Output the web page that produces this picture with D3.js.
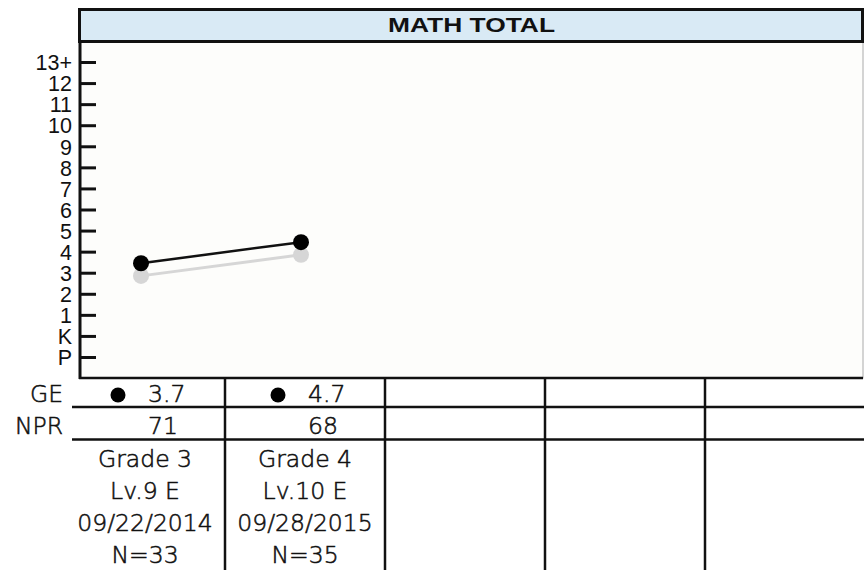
<!DOCTYPE html>
<html>
<head>
<meta charset="utf-8">
<script src="https://cdn.jsdelivr.net/npm/d3@7"></script>
<style>
  body { margin: 0; background: #fff; }
  svg text { font-family: "Liberation Sans", Arial, sans-serif; fill: #111; }
  .title { font-weight: bold; font-size: 20px; }
  .tick text { font-size: 21.5px; }
  .cell-text { font-family: "DejaVu Sans", sans-serif; font-weight: 200; font-size: 23.5px;
               stroke: #111; stroke-width: 0.55px; }
</style>
</head>
<body>
<div class="chart"></div>
<script>
// test slots (5 columns, only two filled)
const slots = ["t1", "t2", "t3", "t4", "t5"];
const gradeLabels = ["Grade 3", "Grade 4"];
const levelLabels = ["Lv.9 E", "Lv.10 E"];
const testDates = ["09/22/2014", "09/28/2015"];
const nLabels = ["N=33", "N=35"];
const geValues = [3.7, 4.7];
const nprValues = [71, 68];
const expectedGE = [3.1, 4.1];
const tickLabels = ["P", "K", "1", "2", "3", "4", "5", "6", "7", "8", "9", "10", "11", "12", "13+"];
const tickLevels = [-1, 0, 1, 2, 3, 4, 5, 6, 7, 8, 9, 10, 11, 12, 13];

const width = 864;
const height = 570;
const plotLeft = 80;
const plotRight = 863;
const plotTop = 42;
const plotBottom = 378;
const tickOffset = 0.25;

const svg = d3.select(".chart")
  .append("svg")
    .attr("width", width)
    .attr("height", height);

svg.append("rect")
  .attr("width", width).attr("height", height)
  .attr("fill", "#fff");

//plot background
svg.append("rect")
  .attr("x", plotLeft).attr("y", plotTop)
  .attr("width", plotRight - plotLeft).attr("height", plotBottom - plotTop)
  .attr("fill", "#fdfdfb")
  .attr("stroke", "#aaa")
  .attr("stroke-width", 1);

//title box
svg.append("rect")
  .attr("x", 79.5).attr("y", 9.5)
  .attr("width", 783).attr("height", 32)
  .attr("fill", "#d9eaf5")
  .attr("stroke", "#111")
  .attr("stroke-width", 3);
svg.append("text")
  .attr("class", "title")
  .attr("x", 471.5).attr("y", 31.5)
  .attr("text-anchor", "middle")
  .attr("textLength", 167)
  .attr("lengthAdjust", "spacingAndGlyphs")
  .text("MATH TOTAL");

//SCALES
const x = d3.scaleBand()
  .domain(slots)
  .range([65, 865]);

const y = d3.scaleLinear()
  .domain([-1 + tickOffset, 13 + tickOffset])
  .range([357, 62]);

const cx = i => x(slots[i]) + x.bandwidth() / 2;

//y axis
const yAxis = svg.append("g")
  .attr("transform", `translate(${plotLeft},0)`)
  .call(d3.axisLeft(y)
    .tickValues(tickLevels.map(d => d + tickOffset))
    .tickFormat((d, i) => tickLabels[i])
    .tickSize(-16)
    .tickPadding(8));
yAxis.select(".domain").remove();
yAxis.selectAll(".tick line")
  .attr("stroke", "#111")
  .attr("stroke-width", 3);
yAxis.selectAll(".tick text")
  .attr("dy", "0.36em")
  .attr("fill", "#222");

//axis lines
svg.append("line")
  .attr("x1", plotLeft).attr("x2", plotLeft)
  .attr("y1", plotTop).attr("y2", plotBottom + 1)
  .attr("stroke", "#111").attr("stroke-width", 3);
svg.append("line")
  .attr("x1", plotLeft - 1).attr("x2", plotRight)
  .attr("y1", plotBottom).attr("y2", plotBottom)
  .attr("stroke", "#111").attr("stroke-width", 2.5);

//expected (gray) series
const line = d3.line()
  .x((d, i) => cx(i) - 4)
  .y(d => y(d));

svg.append("path")
  .datum(expectedGE)
  .attr("d", line)
  .attr("fill", "none")
  .attr("stroke", "#d6d6d6")
  .attr("stroke-width", 3);
svg.selectAll(".exp-dot")
  .data(expectedGE)
  .enter().append("circle")
    .attr("class", "exp-dot")
    .attr("cx", (d, i) => cx(i) - 4)
    .attr("cy", d => y(d))
    .attr("r", 8)
    .attr("fill", "#d6d6d6");

//student GE series
svg.append("path")
  .datum(geValues)
  .attr("d", line)
  .attr("fill", "none")
  .attr("stroke", "#111")
  .attr("stroke-width", 2.5);
svg.selectAll(".ge-dot")
  .data(geValues)
  .enter().append("circle")
    .attr("class", "ge-dot")
    .attr("cx", (d, i) => cx(i) - 4)
    .attr("cy", d => y(d))
    .attr("r", 8)
    .attr("fill", "#000");

//TABLE
//row lines
[407, 439.5].forEach(yy => {
  svg.append("line")
    .attr("x1", 72).attr("x2", width)
    .attr("y1", yy).attr("y2", yy)
    .attr("stroke", "#111").attr("stroke-width", 2.5);
});
//column dividers
svg.selectAll(".col-line")
  .data(slots.slice(1))
  .enter().append("line")
    .attr("class", "col-line")
    .attr("x1", d => x(d)).attr("x2", d => x(d))
    .attr("y1", 377).attr("y2", height)
    .attr("stroke", "#111").attr("stroke-width", 2.5);

//row labels
svg.append("text").attr("class", "cell-text")
  .attr("x", 63).attr("y", 401.5).attr("text-anchor", "end").text("GE");
svg.append("text").attr("class", "cell-text")
  .attr("x", 63).attr("y", 434).attr("text-anchor", "end").text("NPR");

//GE row
svg.selectAll(".ge-key")
  .data(geValues)
  .enter().append("circle")
    .attr("class", "ge-key")
    .attr("cx", (d, i) => cx(i) - 27)
    .attr("cy", 395)
    .attr("r", 7.5)
    .attr("fill", "#000");
svg.selectAll(".ge-val")
  .data(geValues)
  .enter().append("text")
    .attr("class", "cell-text ge-val")
    .attr("x", (d, i) => cx(i) + 3)
    .attr("y", 401.5)
    .text(d => d.toFixed(1));

//NPR row
svg.selectAll(".npr-val")
  .data(nprValues)
  .enter().append("text")
    .attr("class", "cell-text npr-val")
    .attr("x", (d, i) => cx(i) + 3)
    .attr("y", 434)
    .text(d => d);

//test info
const info = gradeLabels.map((g, i) => [g, levelLabels[i], testDates[i], nLabels[i]]);
svg.selectAll(".info")
  .data(info)
  .enter().append("text")
    .attr("class", "cell-text info")
    .attr("text-anchor", "middle")
    .attr("transform", (d, i) => `translate(${cx(i)},467)`)
  .selectAll("tspan")
  .data(d => d)
  .enter().append("tspan")
    .attr("x", 0)
    .attr("y", (d, j) => j * 32)
    .text(d => d);
</script>
</body>
</html>
